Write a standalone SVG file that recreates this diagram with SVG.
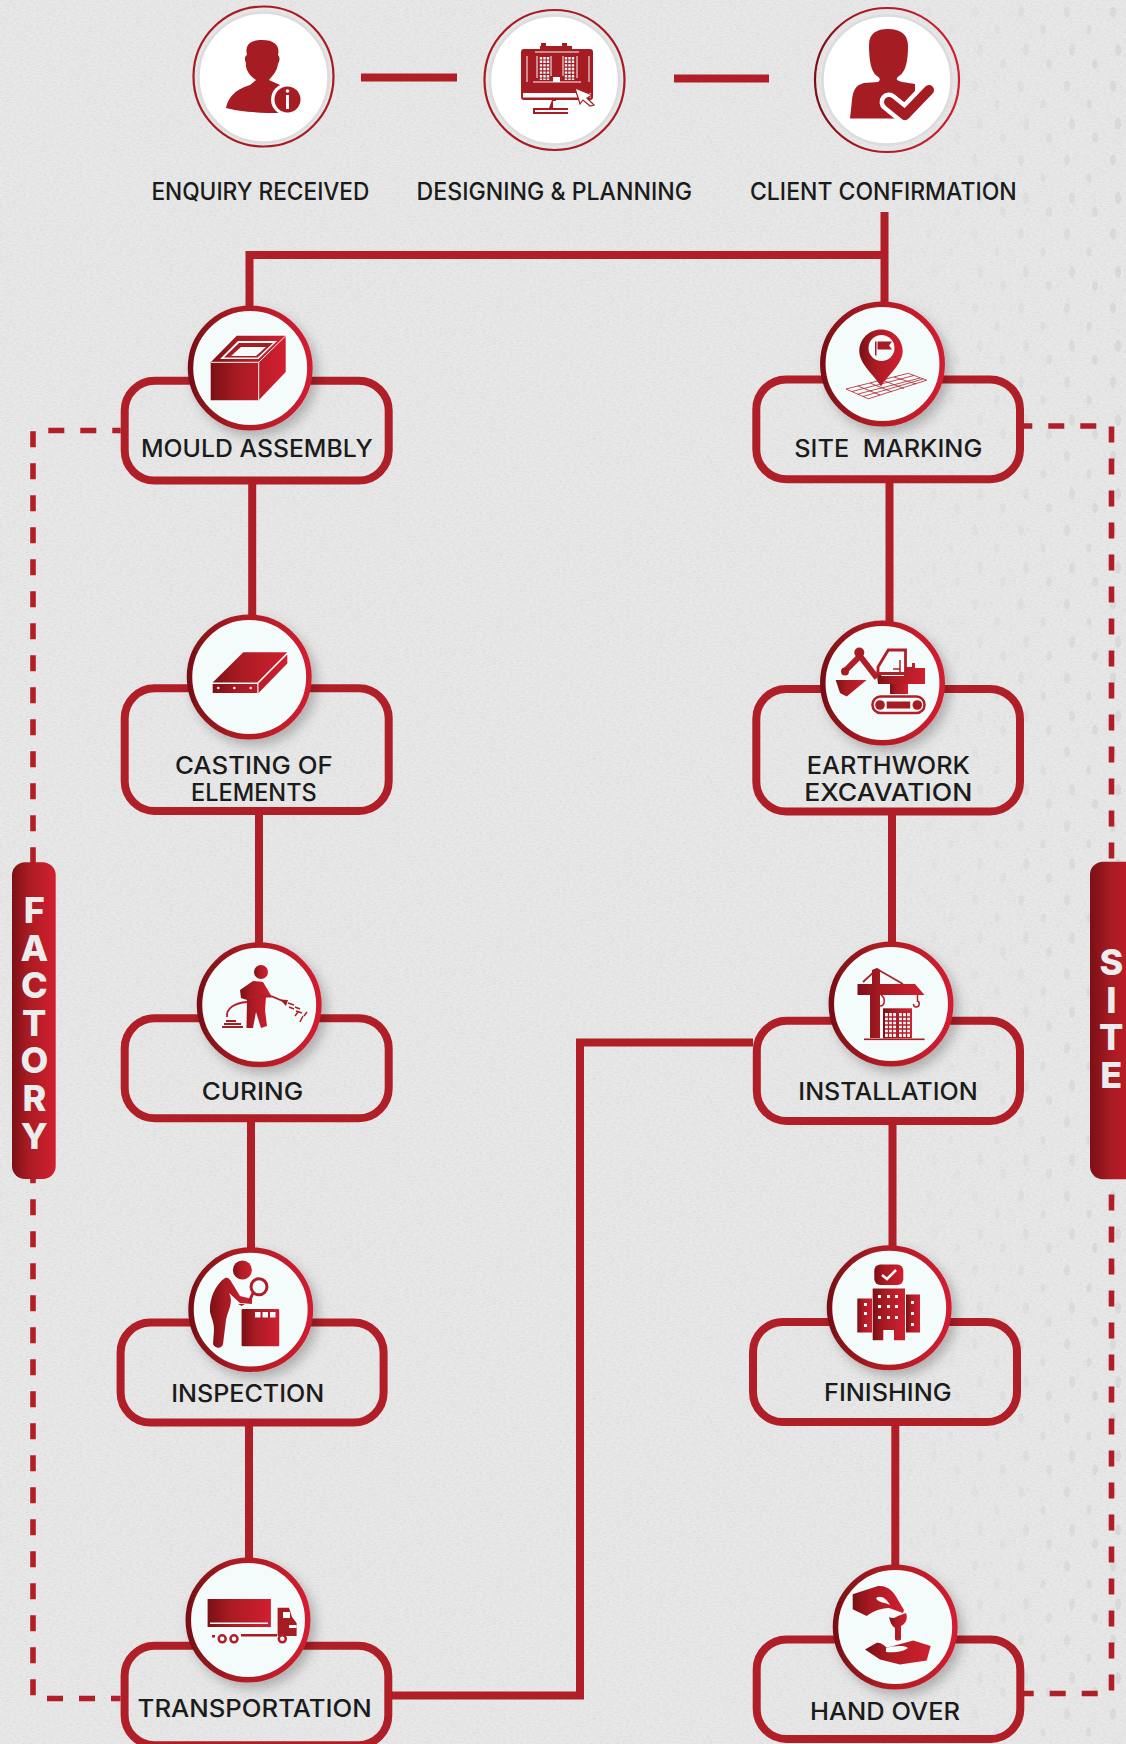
<svg xmlns="http://www.w3.org/2000/svg" width="1126" height="1744" viewBox="0 0 1126 1744">
<defs>
<linearGradient id="rg"><stop offset="0" stop-color="#7a1015"/><stop offset=".35" stop-color="#a81b22"/><stop offset="1" stop-color="#d21f30"/></linearGradient>
<linearGradient id="fade" gradientUnits="userSpaceOnUse" x1="880" y1="0" x2="1126" y2="0"><stop offset="0" stop-color="#fff" stop-opacity="0"/><stop offset="1" stop-color="#fff" stop-opacity="1"/></linearGradient>
<mask id="fadeMask" maskUnits="userSpaceOnUse" x="0" y="0" width="1126" height="1744"><rect width="1126" height="1744" fill="url(#fade)"/></mask>
<pattern id="dots" patternUnits="userSpaceOnUse" width="46" height="74"><ellipse cx="9" cy="12" rx="3" ry="5.500" fill="#c4c4c4"/><ellipse cx="31" cy="30" rx="2.500" ry="4.500" fill="#c4c4c4"/><ellipse cx="14" cy="50" rx="3" ry="6" fill="#c4c4c4"/><ellipse cx="37" cy="64" rx="3" ry="5" fill="#c4c4c4"/></pattern>
<filter id="paper" x="0" y="0" width="100%" height="100%"><feTurbulence type="fractalNoise" baseFrequency="0.3 0.8" numOctaves="3" seed="4"/><feColorMatrix type="matrix" values="0 0 0 0 0.5 0 0 0 0 0.5 0 0 0 0 0.5 0.5 0 0 0 -0.19"/></filter>
<filter id="sh" x="-30%" y="-30%" width="170%" height="170%"><feDropShadow dx="5" dy="6" stdDeviation="6" flood-color="#000" flood-opacity=".24"/></filter>
</defs>
<style>
.box{fill:none;stroke:#b01f27;stroke-width:8}
.disc{fill:#f4fbfb;stroke:url(#rg);stroke-width:5.500;filter:url(#sh)}
.ring{fill:none;stroke:#a81b22;stroke-width:2.200}
.halo{fill:#fff;stroke:#dcdcdc;stroke-width:2.500}
.lbl{font-family:"Inter","Noto Sans","Liberation Sans",sans-serif;font-weight:500;font-size:24px;fill:#1b1b1b}
.side{font-family:"Inter","Liberation Sans",sans-serif;font-weight:800;font-size:36px;fill:#ececec;text-anchor:start;writing-mode:vertical-rl;text-orientation:upright;letter-spacing:-6.400px}
.solid{fill:none;stroke:#b01f27;stroke-width:8}
.dash{fill:none;stroke:#b01f27;stroke-width:5.600;stroke-dasharray:16 16}
.ic{fill:url(#rg)}
.flat{fill:#a61c23}
.w{fill:#f4fbfb}
.wl{fill:none;stroke:#f4fbfb}
.rl{fill:none;stroke:#b01f27}
</style>
<rect id="background" width="1126" height="1744" fill="#e8e8e8"/>
<rect width="1126" height="1744" filter="url(#paper)"/>
<rect width="1126" height="1744" fill="url(#dots)" mask="url(#fadeMask)" opacity=".4"/>

<g id="connectors">
<path class="solid" d="M361 77.500H457"/>
<path class="solid" d="M674 78.500H769"/>
<path class="solid" d="M884.500 212V305"/>
<path class="solid" d="M884.500 255H249.500V310"/>
<path class="solid" d="M252.200 484V618"/>
<path class="solid" d="M259 815V945"/>
<path class="solid" d="M251 1122V1250"/>
<path class="solid" d="M249 1426V1560"/>
<path class="solid" d="M889.500 483V625"/>
<path class="solid" d="M892 815V945"/>
<path class="solid" d="M892.500 1125V1248"/>
<path class="solid" d="M895.300 1426V1567"/>
<path class="solid" d="M392 1695.500H580V1042.500H753"/>
<path class="dash" d="M33 431.200V1696"/>
<path class="dash" d="M48.300 430.500H120.700"/>
<path class="dash" d="M47 1698.500H120.600"/>
<path class="dash" d="M1111.500 426.600V1691"/>
<path class="dash" d="M1096.300 426H1024"/>
<path class="dash" d="M1097.700 1693.500H1024"/>
</g>

<g id="enquiry-received">
<circle class="ring" cx="263.500" cy="76.500" r="70"/><circle class="halo" cx="263.500" cy="77.500" r="65"/>
<path class="flat" d="M226 108C228 98 234 90 250 85L256 80C250 76 245 70 246 63C244 59 245 56 247 55C245 47 248 40 262 40C276 40 280 47 278 55C280 57 280 60 278 64C277 72 272 76 269 80L280 85V113C262 113 240 112 226 108Z"/>
<circle class="w" cx="287" cy="99.500" r="16"/><circle class="flat" cx="287.500" cy="99.500" r="13"/>
<rect class="w" x="286" y="95" width="3" height="14"/><circle class="w" cx="287.500" cy="91" r="1.800"/>
<text class="lbl" x="151.400" y="200" textLength="218" lengthAdjust="spacingAndGlyphs">ENQUIRY RECEIVED</text>
</g>

<g id="designing-planning">
<circle class="ring" cx="554.500" cy="80" r="70"/><circle class="halo" cx="554.500" cy="80" r="64.500"/>
<rect class="flat" x="521" y="49" width="72" height="51" rx="3"/>
<rect class="flat" x="541" y="43" width="5" height="5"/><rect class="flat" x="562" y="43" width="5" height="5"/><rect class="flat" x="540" y="46" width="32" height="5"/>
<rect class="w" x="523" y="93" width="68" height="4.500"/>
<path class="wl" stroke-width="1" d="M527 56V82M589 56V82M533 82H581M551 56V76M563 56V76M537 56V78M577 56V78"/>
<path class="wl" stroke-width="1.200" d="M535 52H579"/>
<path class="wl" stroke-width="2.400" stroke-dasharray="2.400 1.200" d="M541 57V80M544.500 57V80M548 57V80M566 57V80M569.500 57V80M573 57V80"/>
<rect class="w" x="553" y="77" width="7" height="5"/>
<path class="flat" d="M552 100H556L558 108H568V114H533V108H549Z"/><rect class="w" x="553" y="101" width="14" height="7"/><rect class="w" x="535" y="110" width="42" height="2"/>
<path d="M575 88L592 95L587 98L594 105L590 106L583 100L580 104Z" fill="#fff" stroke="#a61c23" stroke-width="1.200"/>
<text class="lbl" x="416.600" y="200" textLength="275.400" lengthAdjust="spacingAndGlyphs">DESIGNING &amp; PLANNING</text>
</g>

<g id="client-confirmation">
<circle cx="887" cy="80" r="72" fill="none" stroke="url(#rg)" stroke-width="2.200"/><circle class="halo" cx="887" cy="80" r="64.500"/>
<path class="flat" d="M869 45C869 33 877 29 888 29C900 29 908 34 908 46C908 60 906 72 899 76C896 78 896 80 899 81C905 83 912 83 915 84V118.500H850L852 100C853 90 856 85 864 83L878 82C881 80 880 78 877 76C871 72 869 60 869 45Z"/>
<path fill="none" stroke="#fff" stroke-width="19" stroke-linecap="round" stroke-linejoin="round" d="M889 102L905 115L929 90"/>
<path fill="none" stroke="#a61c23" stroke-width="10" stroke-linecap="round" stroke-linejoin="round" d="M889 102L905 115L929 90"/>
<text class="lbl" x="750" y="200" textLength="266.700" lengthAdjust="spacingAndGlyphs">CLIENT CONFIRMATION</text>
</g>

<g id="mould-assembly">
<rect class="box" x="124.700" y="380.800" width="264" height="99.800" rx="30"/>
<circle class="disc" cx="250.200" cy="368" r="59.700"/>
<path class="ic" d="M210.700 362.300L236.700 335.800H285.700V372L258.700 400.200H210.700Z"/>
<path class="wl" stroke-width="1" d="M210.700 362.300H258.700V400.200M258.700 362.300L285.700 335.800"/>
<path class="w" d="M220 359L238 341H277L258.500 359Z"/>
<path class="flat" d="M224 357.500L239 343H273L257.500 357.500Z"/>
<path class="w" d="M231 356L241 347H266L256 356Z"/>
<text class="lbl" x="141" y="457" textLength="231.700" lengthAdjust="spacingAndGlyphs">MOULD ASSEMBLY</text>
</g>

<g id="casting-of-elements">
<rect class="box" x="124.700" y="688.300" width="264" height="122.700" rx="30"/>
<circle class="disc" cx="249.200" cy="677" r="59.700"/>
<path class="ic" d="M212.700 682.600L243.300 652.300H287.300L257.300 682.600Z"/>
<path class="ic" d="M212.700 684H257.300V693H212.700ZM258.500 683.500L287.300 654.500V663.500L258.500 693Z"/>
<circle class="w" cx="218.300" cy="688" r="1.300"/><circle class="w" cx="234.300" cy="688" r="1.300"/><circle class="w" cx="250.700" cy="688" r="1.300"/>
<text class="lbl" x="175" y="773.800" textLength="157.700" lengthAdjust="spacingAndGlyphs">CASTING OF</text>
<text class="lbl" x="191" y="800.700" textLength="125.700" lengthAdjust="spacingAndGlyphs">ELEMENTS</text>
</g>

<g id="curing">
<rect class="box" x="124.700" y="1018.300" width="264" height="100" rx="30"/>
<circle class="disc" cx="259.200" cy="1004.800" r="59.700"/>
<circle class="ic" cx="261" cy="972" r="7"/>
<path class="ic" d="M240 990L253 981L263 982L272 997L266 997L265 1010L267 1026L261 1028L256 1012L253 1028H246.500L247 1000L241 998Z"/>
<path class="rl" stroke-width="1.800" d="M249 996.500H272L285 1002"/>
<path class="rl" stroke-width="1.800" d="M247 1002C235 1003 226 1008 227 1017"/>
<path class="flat" d="M280 999.500L288 1000L286 1006Z"/>
<g class="flat"><rect x="226" y="1020" width="10" height="2"/><rect x="224" y="1023" width="17" height="2"/><rect x="222" y="1026" width="21" height="2"/></g>
<path class="rl" stroke-width="1.500" d="M288 1003L294 1005M289 1007L294 1009M295 1007L300 1009M296 1011L302 1013M295 1016L298 1012M300 1022L303 1016M304 1016L307 1012"/>
<text class="lbl" x="201.700" y="1100" textLength="101.600" lengthAdjust="spacingAndGlyphs">CURING</text>
</g>

<g id="inspection">
<rect class="box" x="120.600" y="1322.600" width="263" height="100" rx="30"/>
<circle class="disc" cx="250.700" cy="1309.600" r="59.700"/>
<circle class="ic" cx="242.400" cy="1270" r="9.500"/>
<path class="ic" d="M225 1278C216 1284 209 1298 210 1312C212 1320 214 1322 214 1330L213 1344C215 1349 222 1349 223 1344L226 1320C228 1310 234 1302 229 1293L240 1303L252 1304L252 1299L240 1296L232 1283C230 1279 228 1277 225 1278Z"/>
<circle cx="259" cy="1286.800" r="8" fill="none" stroke="#b01f27" stroke-width="3"/>
<path class="rl" stroke-width="3" d="M253 1293L249 1302"/>
<path class="flat" d="M238 1304H245L241.500 1306Z"/>
<rect class="ic" x="241.600" y="1309" width="37.600" height="37.300" rx="1"/>
<g class="w"><rect x="255" y="1312" width="5.500" height="5.500"/><rect x="262.500" y="1312" width="5.500" height="5.500"/><rect x="270" y="1312" width="5.500" height="5.500"/></g>
<text class="lbl" x="171.200" y="1402" textLength="153" lengthAdjust="spacingAndGlyphs">INSPECTION</text>
</g>

<g id="transportation">
<rect class="box" x="124.600" y="1645.800" width="263.700" height="99.400" rx="30"/>
<circle class="disc" cx="248" cy="1620" r="59.700"/>
<rect class="ic" x="207.600" y="1599" width="63.300" height="28"/>
<rect class="w" x="210" y="1622.500" width="58" height="1.500"/>
<path class="flat" d="M277.600 1607.700H289L292 1617L296.600 1623V1636H277.600Z"/>
<path class="w" d="M283 1612H290V1618H283ZM289 1625H296.600V1628H289Z"/>
<rect class="flat" x="241" y="1634" width="36" height="2.500"/><rect class="flat" x="212" y="1635" width="3" height="2.500"/>
<g fill="#f4fbfb" stroke="#b01f27" stroke-width="2.500"><circle cx="222.200" cy="1638.800" r="3.500"/><circle cx="234" cy="1638.800" r="3.500"/><circle cx="282.300" cy="1638.800" r="3.500"/></g>
<text class="lbl" x="137.600" y="1717.300" textLength="234.100" lengthAdjust="spacingAndGlyphs">TRANSPORTATION</text>
</g>

<g id="site-marking">
<rect class="box" x="756.300" y="379.400" width="263.700" height="99.800" rx="30"/>
<circle class="disc" cx="882.500" cy="364" r="59.700"/>
<g class="rl" stroke-width=".8">
<path d="M846 389L908.300 373.300L926.700 380.200L868.300 398.800Z"/>
<path d="M852 391.500L914 375.500M858 394L920 378M863 396.500L923 379M858 386L880 395M870 383L892 392M882 380L904 388.500M894 377L916 384"/>
</g>
<path class="ic" d="M881 386.500C875 376 859.300 364 859.300 351.300C859.300 339.300 869 329.600 881 329.600C893 329.600 902.700 339.300 902.700 351.300C902.700 364 887 376 881 386.500Z"/>
<circle class="w" cx="881.500" cy="348" r="13"/>
<rect class="flat" x="875" y="341.500" width="1.500" height="14"/><path class="flat" d="M877.500 341.500H892L889 345.500L892 349.500H877.500Z"/>
<text class="lbl" x="794.300" y="457" textLength="188" lengthAdjust="spacingAndGlyphs" xml:space="preserve">SITE  MARKING</text>
</g>

<g id="earthwork-excavation">
<rect class="box" x="756.300" y="689" width="263.700" height="122.500" rx="30"/>
<circle class="disc" cx="882.500" cy="683" r="59.700"/>
<rect x="872.500" y="696.500" width="52" height="16.500" rx="8" fill="none" stroke="#b01f27" stroke-width="2.500"/>
<circle class="flat" cx="880" cy="705" r="4.800"/><circle class="flat" cx="917.300" cy="705" r="4.800"/><rect class="flat" x="886.700" y="701.500" width="23.500" height="7"/>
<rect class="ic" x="890" y="684" width="18" height="10"/>
<path class="ic" d="M876.500 671L882 676H904V667H912V663H915V668H925V684H878Z"/>
<path fill="#f4fbfb" stroke="#b01f27" stroke-width="2.800" d="M878 667L888.300 650H905.500V673.500H878Z"/>
<path class="rl" stroke-width="1.500" d="M900 660V672M893 669H900"/>
<path class="rl" stroke-width="6" d="M877 678L860 656L846 670"/>
<circle class="flat" cx="859.300" cy="652.600" r="5"/><circle class="flat" cx="845" cy="671.500" r="4"/>
<path class="ic" d="M835.700 680H866.700L846.700 696.400L840 693Z"/>
<text class="lbl" x="806.700" y="773.800" textLength="163.300" lengthAdjust="spacingAndGlyphs">EARTHWORK</text>
<text class="lbl" x="804.300" y="800.700" textLength="168" lengthAdjust="spacingAndGlyphs">EXCAVATION</text>
</g>

<g id="installation">
<rect class="box" x="756.800" y="1020.700" width="263.200" height="100.300" rx="30"/>
<circle class="disc" cx="891" cy="1004" r="59.700"/>
<path class="rl" stroke-width="1.800" d="M863 982L877 969L903 984"/>
<path class="ic" d="M857.500 984H872V970L877 968L880 970V984H915L924.600 995H880V1038H870V995H857.500Z"/>
<path class="rl" stroke-width="1.500" d="M917.500 995V1001C920 1002 920 1007 916 1007C914 1007 913.500 1005 913.500 1004"/>
<path class="rl" stroke-width="1.500" d="M880 1006C885 1006 886 998 881 995"/>
<rect class="ic" x="883" y="1008.300" width="29" height="30"/>
<g class="w"><rect x="885" y="1013" width="11" height="24"/><rect x="899" y="1013" width="11" height="24"/></g>
<path class="rl" stroke-width="1.300" d="M885 1017H896M885 1021H896M885 1025H896M885 1029H896M885 1033H896M899 1017H910M899 1021H910M899 1025H910M899 1029H910M899 1033H910M888.500 1013V1037M892.500 1013V1037M902.500 1013V1037M906.500 1013V1037"/>
<rect class="flat" x="864" y="1038.500" width="60.600" height="1.600"/>
<text class="lbl" x="798.300" y="1100" textLength="179.400" lengthAdjust="spacingAndGlyphs">INSTALLATION</text>
</g>

<g id="finishing">
<rect class="box" x="753" y="1322" width="264" height="100" rx="30"/>
<circle class="disc" cx="889.200" cy="1307.800" r="59.700"/>
<rect class="ic" x="874.300" y="1264.500" width="29" height="20.500" rx="6"/>
<path fill="none" stroke="#f4fbfb" stroke-width="2.500" d="M882 1275L887 1279L896 1270"/>
<path class="ic" d="M872.700 1288.500H905V1340.300H894V1330H883.300V1340.300H872.700Z"/>
<rect class="ic" x="857.300" y="1298.500" width="14.700" height="34"/>
<rect class="ic" x="906" y="1294.500" width="14" height="38"/>
<g class="w"><rect x="878" y="1295" width="3" height="3"/><rect x="887" y="1295" width="3" height="3"/><rect x="895" y="1295" width="3" height="3"/><rect x="878" y="1305" width="3" height="3"/><rect x="887" y="1305" width="3" height="3"/><rect x="895" y="1305" width="3" height="3"/><rect x="878" y="1316" width="3" height="3"/><rect x="887" y="1316" width="3" height="3"/><rect x="895" y="1316" width="3" height="3"/><rect x="864" y="1303" width="3" height="3"/><rect x="864" y="1312" width="3" height="3"/><rect x="864" y="1324" width="3" height="3"/><rect x="911" y="1301" width="3" height="3"/><rect x="911" y="1312" width="3" height="3"/><rect x="911" y="1323" width="3" height="3"/></g>
<text class="lbl" x="824" y="1401" textLength="127.700" lengthAdjust="spacingAndGlyphs">FINISHING</text>
</g>

<g id="hand-over">
<rect class="box" x="756.700" y="1639.400" width="263.600" height="99.600" rx="30"/>
<circle class="disc" cx="895.200" cy="1627" r="59.700"/>
<path class="ic" d="M852.700 1594.300L878 1586C888 1585 894 1592 898 1600L904 1610L903 1613L889 1608C880 1608 872 1612 866.700 1616L852.700 1609.300Z"/>
<path class="w" d="M876 1598C881 1595 886 1598 890 1605C884 1602 878 1603 876 1598Z"/>
<path class="ic" d="M889 1617C892 1619 895 1618 898 1616L906 1613C908 1618 906 1624 901 1626V1639C901 1641 895 1641 895 1639V1628C892 1626 890 1622 889 1617Z"/>
<path class="ic" d="M865 1649.500L876.700 1642.800C881 1642 884 1645 886.700 1647.800L913.300 1640.400L930.700 1646L926.700 1660.500L900 1664.500L880 1659.500Z"/>
<path class="w" d="M886 1648C892 1646 905 1645 908 1648C903 1652 893 1653 886 1652Z"/>
<text class="lbl" x="810" y="1720.300" textLength="150" lengthAdjust="spacingAndGlyphs">HAND OVER</text>
</g>

<g id="factory-band">
<rect x="12" y="862.300" width="43.700" height="316.700" rx="13" fill="url(#rg)"/>
<text class="side" x="34.300" y="888">FACTORY</text>
</g>

<g id="site-band">
<rect x="1090" y="861.700" width="60" height="317.600" rx="13" fill="url(#rg)"/>
<text class="side" x="1111.300" y="940">SITE</text>
</g>
</svg>
